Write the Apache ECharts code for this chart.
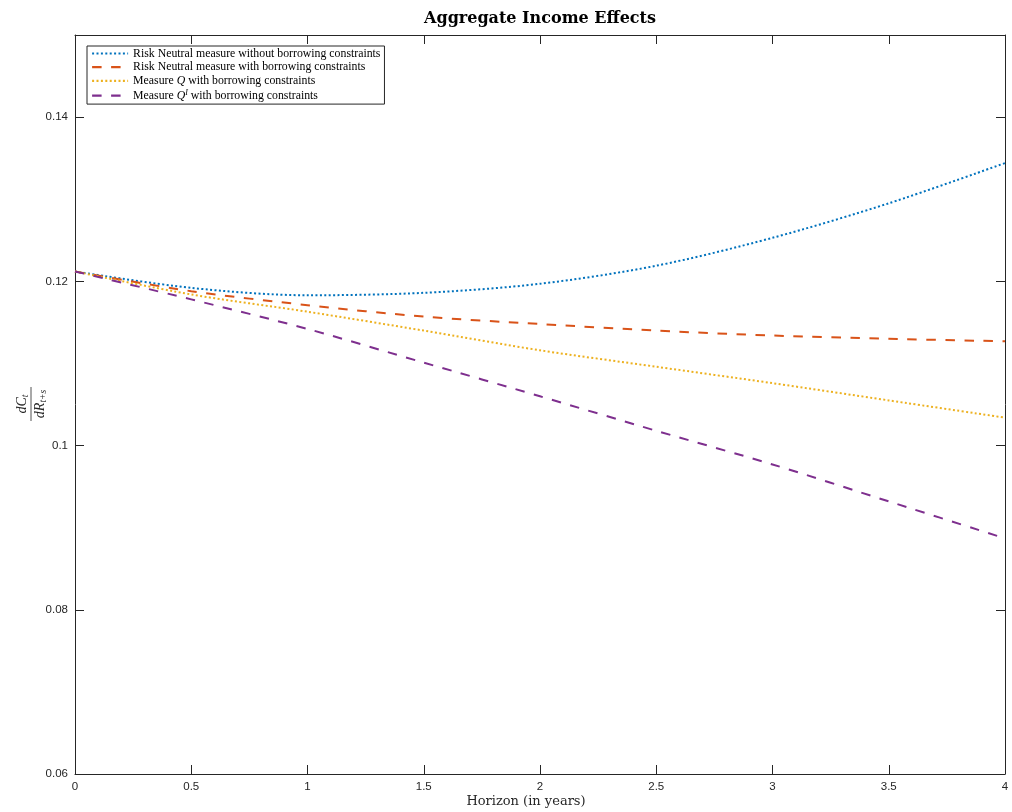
<!DOCTYPE html>
<html>
<head>
<meta charset="utf-8">
<script src="https://cdn.jsdelivr.net/npm/echarts@6/dist/echarts.min.js"></script>
<style>
html,body{margin:0;padding:0;background:#fff;}
#chart{width:1012px;height:812px;}
</style>
</head>
<body>
<div id="chart"></div>
<script>
// ---- data ----
var horizon = [0, 0.5, 1, 1.5, 2, 2.5, 3, 3.5, 4];
var rnNoBC  = [0.1212, 0.1192, 0.1183, 0.1186, 0.1197, 0.1219, 0.1253, 0.1295, 0.1344];
var rnBC    = [0.1212, 0.1188, 0.1171, 0.1157, 0.1148, 0.1140, 0.1134, 0.1130, 0.1127];
var measQ   = [0.1212, 0.1184, 0.1163, 0.1140, 0.1116, 0.1096, 0.1076, 0.1055, 0.1034];
var measQI  = [0.1212, 0.1178, 0.1142, 0.1101, 0.1060, 0.1018, 0.0977, 0.0932, 0.0887];
var seriesNames = [
  'Risk Neutral measure without borrowing constraints',
  'Risk Neutral measure with borrowing constraints',
  'Measure {q|Q} with borrowing constraints',
  'Measure {q|Q}{sup|I} with borrowing constraints'
];
var xTicks = {min: 0, max: 4, interval: 0.5};
var yTicks = {min: 0.06, max: 0.15, interval: 0.02};

function pairs(xs, ys) { return xs.map(function (x, i) { return [x, ys[i]]; }); }

var serif = 'Liberation Serif';
var sans = 'Liberation Sans';
var axisColor = '#262626';
var colors = ['#0072BD', '#D95319', '#EDB120', '#7E2F8E'];
var styles = [[2, 2.4], [9.5, 9.5], [2, 2.4], [9.5, 9.5]];
var allData = [rnNoBC, rnBC, measQ, measQI];

var chart = echarts.init(document.getElementById('chart'));

var baseAxis = {
  axisLine: {show: true, onZero: false, lineStyle: {color: axisColor, width: 1}},
  axisTick: {show: true, inside: true, length: 9, lineStyle: {color: axisColor, width: 1}},
  splitLine: {show: false}
};

var option = {
  animation: false,
  backgroundColor: '#fff',
  grid: {left: 75, right: 7, top: 35, bottom: 38, containLabel: false},
  xAxis: [
    Object.assign({}, baseAxis, {
      type: 'value', position: 'bottom', min: xTicks.min, max: xTicks.max, interval: xTicks.interval,
      axisLabel: {color: axisColor, fontFamily: sans, fontSize: 11.5, margin: 7}
    }),
    Object.assign({}, baseAxis, {
      type: 'value', position: 'top', min: xTicks.min, max: xTicks.max, interval: xTicks.interval,
      axisLabel: {show: false}
    })
  ],
  yAxis: [
    Object.assign({}, baseAxis, {
      type: 'value', position: 'left', min: yTicks.min, max: yTicks.max, interval: yTicks.interval,
      axisLabel: {color: axisColor, fontFamily: sans, fontSize: 11.5, margin: 7, showMaxLabel: false}
    }),
    Object.assign({}, baseAxis, {
      type: 'value', position: 'right', min: yTicks.min, max: yTicks.max, interval: yTicks.interval,
      axisLabel: {show: false}
    })
  ],
  legend: {
    orient: 'vertical', left: 87, top: 46,
    itemWidth: 36, itemHeight: 12, itemGap: 1.7,
    padding: [1.5, 4, 2.5, 4],
    borderColor: axisColor, borderWidth: 1, backgroundColor: '#fff',
    itemStyle: {color: 'rgba(0,0,0,0)', borderWidth: 0, opacity: 0},
    lineStyle: {width: 2.2},
    data: seriesNames,
    textStyle: {
      fontFamily: serif, fontSize: 11.8, color: '#000', lineHeight: 12,
      rich: {
        q: {fontFamily: serif, fontSize: 11.8, fontStyle: 'italic', color: '#000'},
        sup: {fontFamily: serif, fontSize: 8, fontStyle: 'italic', color: '#000', padding: [0, 0, 6, 0]}
      }
    }
  },
  graphic: [
    {
      type: 'text', x: 540, y: 19,
      style: {text: 'Aggregate Income Effects', font: 'bold 16px "DejaVu Serif"', fill: '#000', align: 'center', verticalAlign: 'middle'}
    },
    {
      type: 'text', x: 526, y: 802,
      style: {text: 'Horizon (in years)', font: '13px "DejaVu Serif"', fill: '#262626', align: 'center', verticalAlign: 'middle'}
    },
    {
      type: 'group', x: 31, y: 404, rotation: Math.PI / 2,
      children: [
        {type: 'text', x: 0, y: -1, style: {
          text: '{i|dC}{s|t}', align: 'center', verticalAlign: 'bottom',
          rich: {i: {font: 'italic 14px "Liberation Serif"', fill: '#262626'},
                 s: {font: 'italic 9.5px "Liberation Serif"', fill: '#262626', padding: [5, 0, 0, 0]}}
        }},
        {type: 'line', shape: {x1: -17, y1: 0, x2: 17, y2: 0}, style: {stroke: '#262626', lineWidth: 0.8}},
        {type: 'text', x: 0, y: 2, style: {
          text: '{i|dR}{s|t+s}', align: 'center', verticalAlign: 'top',
          rich: {i: {font: 'italic 14px "Liberation Serif"', fill: '#262626'},
                 s: {font: 'italic 9.5px "Liberation Serif"', fill: '#262626', padding: [5, 0, 0, 0]}}
        }}
      ]
    }
  ],
  series: allData.map(function (d, i) {
    return {
      name: seriesNames[i], type: 'line', smooth: 0.3, symbol: 'none', showSymbol: false,
      xAxisIndex: 0, yAxisIndex: 0,
      data: pairs(horizon, d),
      lineStyle: {color: colors[i], width: 2, type: styles[i], cap: 'butt'},
      itemStyle: {color: colors[i]},
      z: 3
    };
  })
};
chart.setOption(option);
</script>
</body>
</html>
